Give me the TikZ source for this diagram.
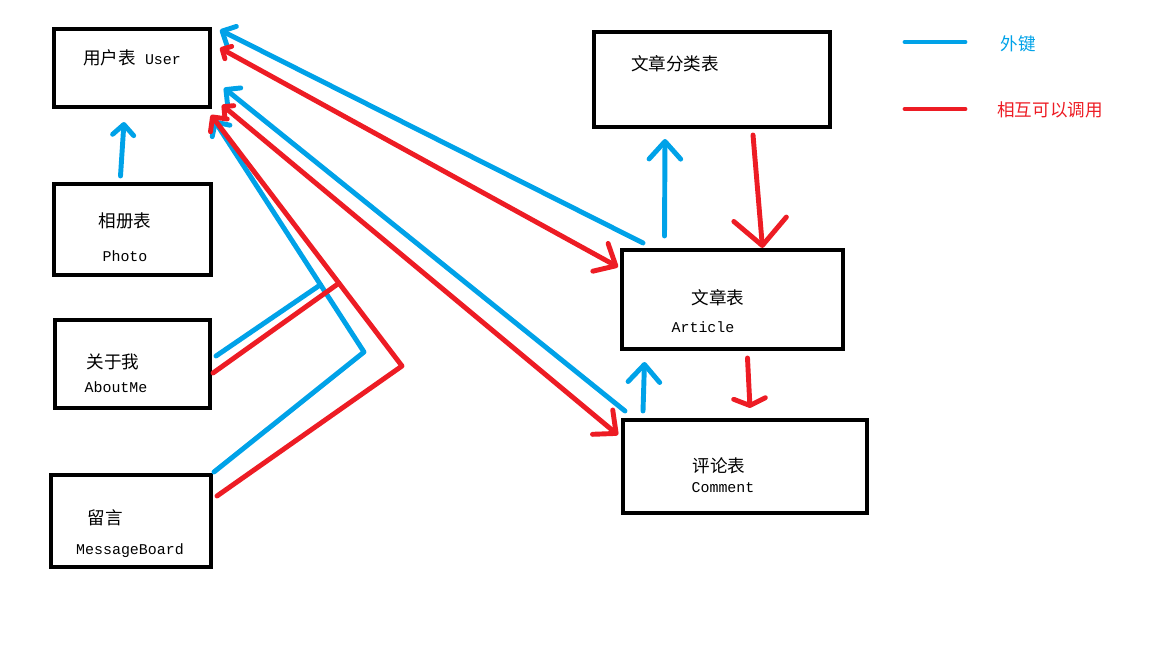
\documentclass[tikz,border=0pt]{standalone}
\usepackage{fontspec}
\setmainfont{Liberation Mono}
\newfontfamily\cjk{Noto Sans CJK SC}
\usetikzlibrary{arrows.meta,calc}
\definecolor{keyblue}{HTML}{00A2E8}
\definecolor{callred}{HTML}{ED1C24}

\begin{document}
\begin{tikzpicture}[x=0.02cm,y=-0.02cm,
  tbl/.style={draw,line width=2.3pt,inner sep=0pt},
  zh/.style={inner sep=0pt,font=\cjk\fontsize{10}{12}\selectfont},
  en/.style={inner sep=0pt,font=\fontsize{8.5}{10}\selectfont},
  fkline/.style={keyblue,line width=2.8pt,line cap=round,line join=round},
  callline/.style={callred,line width=2.8pt,line cap=round,line join=round},
  endsm/.style={-{Straight Barb[round,length=6pt,width=12pt]}},
  endmd/.style={-{Straight Barb[round,length=10pt,width=18pt]}},
  endlg/.style={-{Straight Barb[round,length=15pt,width=30pt]}},
  endhook/.style={-{Straight Barb[round,length=4pt,width=18pt]}},
  bothmd/.style={{Straight Barb[round,length=4pt,width=8pt]}-{Straight Barb[round,length=10pt,width=18pt]}}]
  \useasboundingbox (0,0) rectangle (1152,648);

  % Tables
  \node[tbl,minimum width=3.12cm,minimum height=1.56cm] (user) at (132,68) {};
  \node[tbl,minimum width=3.14cm,minimum height=1.82cm] (photo) at (132.5,229.5) {};
  \node[tbl,minimum width=3.10cm,minimum height=1.76cm] (about) at (132.5,364) {};
  \node[tbl,minimum width=3.20cm,minimum height=1.84cm] (msg) at (131,521) {};
  \node[tbl,minimum width=4.72cm,minimum height=1.90cm] (cate) at (712,79.5) {};
  \node[tbl,minimum width=4.42cm,minimum height=1.98cm] (article) at (732.5,299.5) {};
  \node[tbl,minimum width=4.88cm,minimum height=1.86cm] (comment) at (745,466.5) {};

  % Table names
  \node[en,anchor=west] (userlbl) at (83,58) {{\cjk\fontsize{10}{12}\selectfont 用户表}~User};
  \node[zh] (photozh) at (125,221) {相册表};
  \node[en] (photoen) at (125,256) {Photo};
  \node[zh] (aboutzh) at (113,362) {关于我};
  \node[en] (abouten) at (116,387) {AboutMe};
  \node[zh] (msgzh) at (105.5,518) {留言};
  \node[en] (msgen) at (130,551) {MessageBoard};
  \node[zh] (catezh) at (675,64) {文章分类表};
  \node[zh] (articlezh) at (718,298) {文章表};
  \node[en] (articleen) at (703,327) {Article};
  \node[zh] (commentzh) at (719,466) {评论表};
  \node[en] (commenten) at (723,488) {Comment};

  % Legend
  \coordinate (lgfka) at (905,42);
  \coordinate (lgfkb) at (965,42);
  \coordinate (lgcalla) at (905,109);
  \coordinate (lgcallb) at (965,109);
  \draw[fkline] (lgfka) -- (lgfkb);
  \draw[callline] (lgcalla) -- (lgcallb);
  \node[zh,keyblue] (lgfk) at (1018,44) {外键};
  \node[zh,callred] (lgcall) at (1050,110) {相互可以调用};

  % Foreign keys (blue)
  \draw[fkline,endsm] ($(photo.north)+(-12,-6)$) -- ($(user.south)+(-8,13)$);
  \draw[fkline,endsm] ($(article.north west)+(23,-5)$) -- ($(user.north east)+(8,3)$);
  \draw[fkline,endmd] ($(article.north)+(-68,-12)$) -- ($(cate.south)+(-47,10)$);
  \draw[fkline,endmd] ($(comment.north west)+(22,-7)$) -- ($(article.south)+(-88,11)$);
  \draw[fkline,endsm] ($(comment.north west)+(4,-7)$) -- ($(user.east)+(12,20)$);
  \coordinate (bjoin) at (364,352);
  \coordinate (btop) at ($(user.south east)+(2,11)$);
  \draw[fkline,endsm] ($(msg.north east)+(1,-1)$) -- (bjoin) -- (btop);
  \draw[fkline] ($(about.east)+(4,-8)$) -- ($(bjoin)!0.29!(btop)$);

  % Mutual calls (red)
  \draw[callline,bothmd] ($(user.east)+(8,-20)$) -- ($(article.north west)+(-2,19)$);
  \draw[callline,endlg] ($(cate.south)+(41,6)$) -- ($(article.north)+(30,0)$);
  \draw[callline,endhook] ($(article.south)+(15,7)$) -- ($(comment.north)+(5,-10)$);
  \draw[callline,bothmd] ($(user.south east)+(10,-4)$) -- ($(comment.north west)+(-3,17)$);
  \coordinate (rjoin) at (402,366);
  \coordinate (rtop) at ($(user.south east)+(-1,6)$);
  \draw[callline,endsm] ($(msg.east)+(4,-25)$) -- (rjoin) -- (rtop);
  \draw[callline] ($(about.east)+(1,9)$) -- ($(rjoin)!0.33!(rtop)$);
\end{tikzpicture}
\end{document}
